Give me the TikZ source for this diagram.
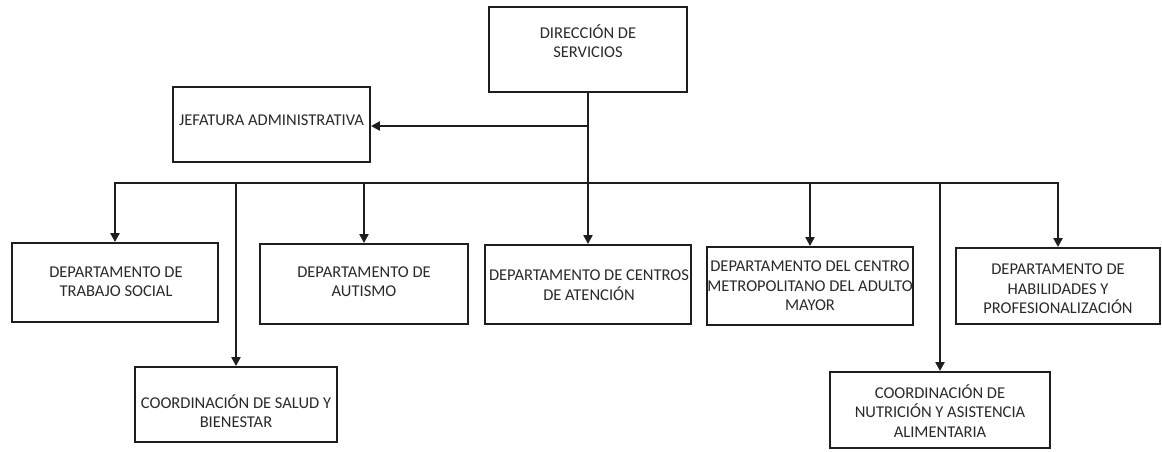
\documentclass[tikz,border=0pt]{standalone}
\usepackage{fontspec}
\setmainfont{Carlito}
\usetikzlibrary{arrows.meta}
\definecolor{ink}{HTML}{1E1E1E}
\definecolor{txt}{HTML}{2A2A2A}
\tikzset{
  box/.style={draw=ink, line width=1.9pt, fill=white, inner sep=0pt},
  lbl/.style={text=txt, font=\fontsize{16.5}{19.5}\selectfont, align=center, inner sep=0pt},
  conn/.style={draw=ink, line width=2.2pt},
  arr/.style={conn, -{Triangle[width=9pt,length=9pt]}},
}
\begin{document}
\begin{tikzpicture}[x=1pt,y=-1pt]
\useasboundingbox (0,0) rectangle (1162,451);
% boxes
\node[box, minimum width=198pt, minimum height=85pt] (dir) at (588,49.5) {};
\node[box, minimum width=197pt, minimum height=75pt] (jef) at (271.5,124.5) {};
\node[box, minimum width=206pt, minimum height=79pt] (trab) at (115,282.5) {};
\node[box, minimum width=208pt, minimum height=80pt] (aut) at (364,284) {};
\node[box, minimum width=206pt, minimum height=79pt] (cen) at (588,284.5) {};
\node[box, minimum width=206pt, minimum height=78pt] (adu) at (810,286) {};
\node[box, minimum width=204pt, minimum height=76pt] (hab) at (1058,286) {};
\node[box, minimum width=202pt, minimum height=75pt] (sal) at (236,404.5) {};
\node[box, minimum width=220pt, minimum height=76pt] (nut) at (940,410) {};
% texts
\node[lbl] (tdir) at (588,41) {DIRECCIÓN DE\\SERVICIOS};
\node[lbl] (tjef) at (271.5,120) {JEFATURA ADMINISTRATIVA};
\node[lbl] (ttrab) at (116,281.5) {DEPARTAMENTO DE\\TRABAJO SOCIAL};
\node[lbl] (taut) at (364,281.5) {DEPARTAMENTO DE\\AUTISMO};
\node[lbl] (tcen) at (589,285) {DEPARTAMENTO DE CENTROS\\DE ATENCIÓN};
\node[lbl] (tadu) at (810,286) {DEPARTAMENTO DEL CENTRO\\METROPOLITANO DEL ADULTO\\MAYOR};
\node[lbl] (thab) at (1058,289) {DEPARTAMENTO DE\\HABILIDADES Y\\PROFESIONALIZACIÓN};
\node[lbl] (tsal) at (236,411) {COORDINACIÓN DE SALUD Y\\BIENESTAR};
\node[lbl] (tnut) at (940,411) {COORDINACIÓN DE\\NUTRICIÓN Y ASISTENCIA\\ALIMENTARIA};
% connectors
\coordinate (jy) at (588,126);
\coordinate (bus) at (588,183);
\draw[conn] (dir.south) -- (bus);
\draw[arr] (jy) -- (jef.east |- jy);
\draw[arr] (bus) -| (trab.north);
\draw[arr] (bus) -| (aut.north);
\draw[arr] (bus) -- (cen.north);
\draw[arr] (bus) -| (adu.north);
\draw[arr] (bus) -| (hab.north);
\draw[arr] (bus) -| (sal.north);
\draw[arr] (bus) -| (nut.north);
\end{tikzpicture}
\end{document}
